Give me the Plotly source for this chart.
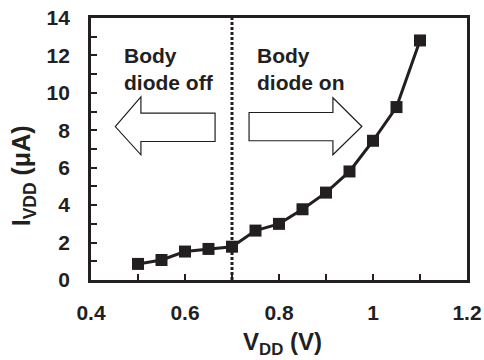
import plotly.graph_objects as go

vdd = [0.5, 0.55, 0.6, 0.65, 0.7, 0.75, 0.8, 0.85, 0.9, 0.95, 1.0, 1.05, 1.1]
ivdd = [0.86, 1.07, 1.52, 1.66, 1.78, 2.64, 3.0, 3.78, 4.67, 5.8, 7.44, 9.24, 12.8]
threshold = 0.7
x_ticks = [0.4, 0.6, 0.8, 1.0, 1.2]
x_tick_labels = ["0.4", "0.6", "0.8", "1", "1.2"]
y_ticks = [0, 2, 4, 6, 8, 10, 12, 14]
y_tick_labels = ["0", "2", "4", "6", "8", "10", "12", "14"]

FONT = "Liberation Sans, Arial, sans-serif"
INK = "#231f20"

fig = go.Figure()
fig.add_trace(go.Scatter(
    x=vdd, y=ivdd, mode="lines+markers",
    line=dict(color=INK, width=3),
    marker=dict(symbol="square", size=12, color=INK),
    showlegend=False, hoverinfo="skip",
))

# dotted threshold line
fig.add_shape(type="line", x0=threshold, x1=threshold, y0=0, y1=14,
              xref="x", yref="y", line=dict(color=INK, width=3, dash="3px,2px"))

# arrows (decorative)
left_arrow = "M 0.4516 8.2 L 0.5062 9.78 L 0.5062 8.92 L 0.664 8.92 L 0.664 7.4 L 0.5062 7.4 L 0.5062 6.69 Z"
right_arrow = "M 0.9763 8.2 L 0.9147 9.74 L 0.9147 8.95 L 0.7363 8.95 L 0.7363 7.44 L 0.9147 7.44 L 0.9147 6.69 Z"
for p in (left_arrow, right_arrow):
    fig.add_shape(type="path", path=p, xref="x", yref="y",
                  line=dict(color=INK, width=1.2), fillcolor="white")

fig.add_annotation(x=0.466, y=11.28, xref="x", yref="y", xanchor="left", yanchor="middle",
                   text="<b>Body<br>diode off</b>", showarrow=False, align="left",
                   font=dict(family=FONT, size=21, color=INK))
fig.add_annotation(x=0.7485, y=11.28, xref="x", yref="y", xanchor="left", yanchor="middle",
                   text="<b>Body<br>diode on</b>", showarrow=False, align="left",
                   font=dict(family=FONT, size=21, color=INK))

# axis titles
fig.add_annotation(x=0.508, y=-0.243, xref="paper", yref="paper", xanchor="center", yanchor="middle",
                   text="<b>V<sub>DD</sub> (V)</b>", showarrow=False,
                   font=dict(family=FONT, size=24, color=INK))
fig.add_annotation(x=-0.18, y=0.397, xref="paper", yref="paper", xanchor="center", yanchor="middle",
                   text="<b>I<sub>VDD</sub> (μA)</b>", showarrow=False, textangle=-90,
                   font=dict(family=FONT, size=25, color=INK))

fig.update_layout(
    width=484, height=360,
    margin=dict(l=91, r=17, t=18, b=80, autoexpand=False),
    paper_bgcolor="white", plot_bgcolor="white",
    font=dict(family=FONT, color=INK),
)
fig.update_xaxes(
    range=[0.4, 1.2], tickvals=x_ticks, ticktext=["<b>%s</b>" % t for t in x_tick_labels],
    ticks="inside", ticklen=6, tickwidth=2, tickcolor=INK,
    minor=dict(dtick=0.1, tick0=0.4, ticks="inside", ticklen=6, tickwidth=2, tickcolor=INK),
    showline=True, linecolor=INK, linewidth=2.7, mirror=True,
    showgrid=False, zeroline=False, automargin=False,
    tickfont=dict(family=FONT, size=21, color=INK),
    ticklabelstandoff=12,
)
fig.update_yaxes(
    range=[0, 14], tickvals=y_ticks, ticktext=["<b>%s</b>" % t for t in y_tick_labels],
    ticks="inside", ticklen=6, tickwidth=2, tickcolor=INK,
    minor=dict(dtick=1, tick0=0, ticks="inside", ticklen=6, tickwidth=2, tickcolor=INK),
    showline=True, linecolor=INK, linewidth=2.7, mirror=True,
    showgrid=False, zeroline=False, automargin=False,
    tickfont=dict(family=FONT, size=21, color=INK),
    ticklabelstandoff=14,
)

fig.write_html("out.html", config={"displayModeBar": False},
               post_script="document.body.style.margin='0';document.body.style.overflow='hidden';")
